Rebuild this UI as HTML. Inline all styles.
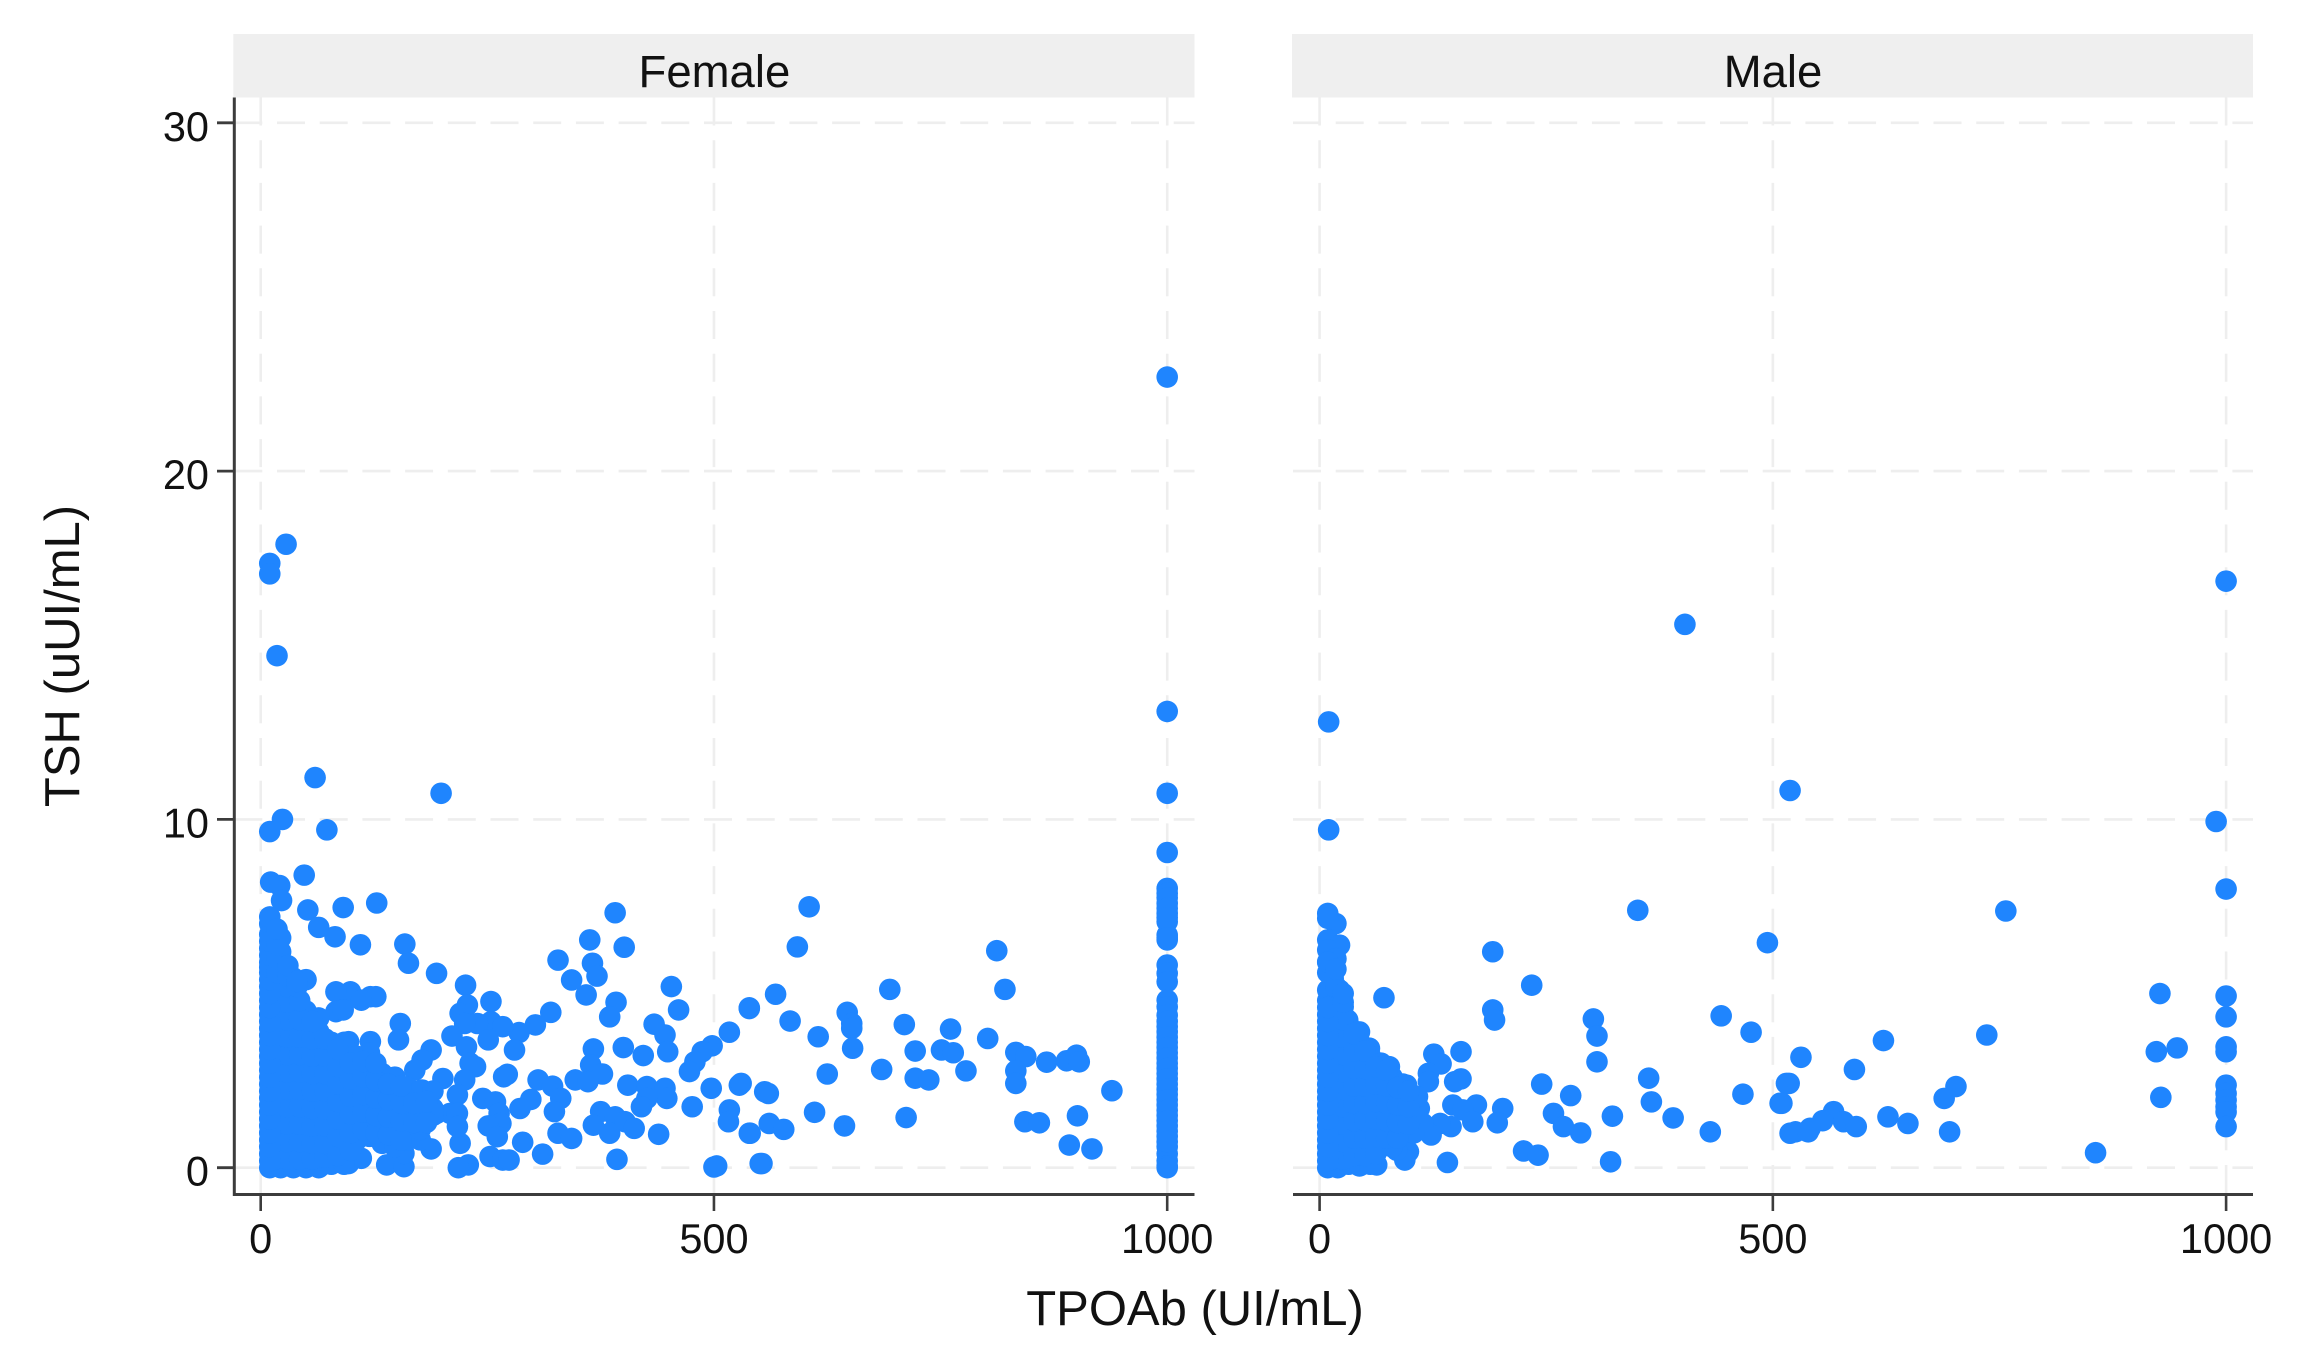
<!DOCTYPE html>
<html lang="en">
<head>
<meta charset="utf-8">
<title>TSH vs TPOAb by sex</title>
<style>
html,body{margin:0;padding:0;background:#fff;width:2313px;height:1358px;overflow:hidden}
svg{display:block;font-family:"Liberation Sans",Arial,sans-serif}
</style>
</head>
<body>
<svg id="chart" xmlns="http://www.w3.org/2000/svg" width="2313" height="1358" viewBox="0 0 2313 1358">
  <rect x="0" y="0" width="2313" height="1358" fill="#ffffff"/>
  <g id="grid"></g>
  <g id="marks"></g>
  <g id="axes"></g>
  <text x="1195" y="1325" font-size="49" text-anchor="middle" fill="#111">TPOAb (UI/mL)</text>
  <text transform="translate(79 656) rotate(-90)" font-size="49" text-anchor="middle" fill="#111">TSH (uUI/mL)</text>
</svg>
<script>
const panelNames = ["Female", "Male"];
const xTicks = [0, 500, 1000];
const yTicks = [0, 10, 20, 30];

const femaleTPOAb = [
1000,28,10,10,18,1000,60,199,1000,24,10,73,1000,
1000,1000,1000,1000,1000,1000,1000,1000,1000,1000,1000,1000,1000,1000,
1000,1000,1000,1000,1000,1000,1000,1000,1000,1000,1000,1000,1000,1000,1000,1000,
48,11,21,23,52,91,128,64,82,110,159,163,194,226,328,363,391,401,366,371,343,359,392,385,
453,461,539,517,434,446,449,498,487,479,473,422,400,367,364,377,347,361,320,303,285,280,
254,228,220,254,267,239,251,225,211,227,231,237,225,217,272,268,306,322,331,324,298,286,
245,259,263,265,251,261,289,311,328,343,375,391,402,412,367,385,439,393,405,426,446,448,
426,420,476,497,528,517,516,540,503,500,551,188,253,267,274,229,218,220,188,178,170,201,
154,152,121,121,127,99,83,111,83,91,97,178,194,209,217,217,170,162,178,162,
605,592,812,821,694,568,539,584,615,647,652,652,653,710,761,802,722,751,764,778,625,685,722,737,
833,844,867,889,900,903,833,833,939,843,859,901,892,917,712,611,644,560,556,539,561,577,553,530,
68,97,111,139,158,158,
10,10,10,10,10,10,10,10,10,10,10,10,10,10,10,10,10,10,10,10,
22,22,22,22,22,22,22,22,22,22,22,22,22,22,22,
36,36,36,36,36,36,36,36,36,36,36,36,
50,50,50,50,50,50,50,50,50,50,50,
64,64,64,64,64,64,64,64,64,64,
78,78,78,78,78,78,78,78,
92,92,92,92,92,92,92,92,
106,106,106,106,106,106,
120,120,120,120,120,120,
134,134,134,134,134,
148,148,148,148,148,
162,162,162,162,
176,176,176,176,
190,190,190,
16,16,16,16,16,16,16,16,16,16,16,
29,29,29,29,29,29,29,29,29,29,29,
43,43,43,43,43,43,43,43,43,43,
57,57,57,57,57,57,57,57,57,
71,71,71,71,71,71,71,71,
85,85,85,85,85,85,85,
99,99,99,99,99,99,
113,113,113,113,113,
127,127,127,127,127,
141,141,141,141,
155,155,155,155,
169,169,
183,183,
10,10,10,10,10,10,10,10,10,10,10,10,10,10,10,10,10,
18,18,18,18,
30,30,
40,40,
1000,1000,1000,1000,1000,1000,1000,1000,1000,1000,1000,1000,1000,1000,1000,1000
];
const femaleTSH = [
22.7,17.9,17.35,17.05,14.7,13.1,11.2,10.75,10.75,10,9.65,9.7,9.05,
8.02,7.88,7.59,7.3,7.06,6.68,6.54,5.82,5.58,5.34,4.81,4.62,4.38,4.2,
3.9,3.6,3.3,3,2.7,2.4,2.1,1.8,1.5,1.2,0.9,0.6,0.4,0.2,0.05,0,
8.4,8.2,8.1,7.67,7.4,7.47,7.6,6.9,6.63,6.4,6.42,5.87,5.58,5.24,5.96,6.54,7.32,6.33,5.87,5.5,5.39,4.96,4.75,4.33,
5.2,4.53,4.59,3.89,4.12,3.81,3.33,3.5,3.33,3.04,2.76,3.22,3.45,3.41,2.95,2.69,2.52,2.47,4.46,4.1,3.88,3.38,
4.77,4.67,4.43,4.19,4.05,4.14,3.67,4.14,3.78,3.47,3,2.9,2.52,2.09,2.68,2.61,2.52,2.34,1.99,1.61,1.96,1.7,
1.99,1.89,1.56,1.27,1.2,0.89,0.73,0.39,0.99,0.84,1.61,1.46,1.32,1.13,1.22,0.99,0.96,0.24,2.37,2.33,2.28,1.99,
1.99,1.75,1.75,2.28,2.37,1.66,1.32,0.99,0.05,0.02,0.12,0.54,0.32,0.22,0.22,0.08,0,0.7,3.38,3.09,2.8,2.56,
4.14,3.67,3.62,4.91,4.91,5.05,5.05,4.81,4.48,4.53,3.62,1.6,1.56,1.56,1.56,1.18,0.99,0.8,2.23,2.23,
7.49,6.34,6.23,5.12,5.12,4.98,4.57,4.21,3.76,4.46,4.14,4,3.43,4.11,3.98,3.71,3.35,3.38,3.3,2.78,2.69,2.82,2.57,2.52,
3.31,3.19,3.03,3.07,3.23,3.04,2.78,2.42,2.21,1.32,1.29,1.49,0.65,0.54,1.44,1.59,1.2,2.13,2.18,0.99,1.27,1.1,0.12,2.42,
0.08,0.12,0.27,0.08,0.03,0.41,
0,0.4,0.8,1.2,1.6,2,2.4,2.8,3.2,3.6,4,4.4,4.8,5.2,5.6,5.9,6.3,6.7,7,7.2,
0,0.5,1,1.5,2,2.5,3,3.5,4,4.5,5,5.5,5.9,6.2,6.6,
0,0.5,1,1.5,2,2.5,3,3.5,4,4.5,5,5.45,
0,0.5,1,1.5,2,2.5,3,3.5,4,4.5,5.4,
0,0.4,0.9,1.4,1.9,2.4,2.9,3.4,3.9,4.3,
0.1,0.6,1.1,1.6,2.1,2.6,3.1,3.6,
0.1,0.7,1.3,1.8,2.3,2.8,3.3,3.6,
0.8,1.3,1.8,2.3,2.8,3.2,
0.9,1.4,1.9,2.4,2.9,3.3,
0.7,1.2,1.7,2.2,2.7,
0.6,1.1,1.6,2.1,2.6,
0.8,1.3,1.9,2.3,
0.8,1.1,1.6,2.2,
1.5,1.7,2.2,
0.25,0.75,1.25,1.75,2.25,2.75,3.25,3.75,4.25,4.75,5.25,
0.25,0.75,1.25,1.75,2.25,2.75,3.25,3.75,4.25,4.75,5.2,
0.25,0.75,1.25,1.75,2.25,2.75,3.25,3.75,4.25,4.8,
0.25,0.7,1.2,1.7,2.2,2.7,3.2,3.7,4.2,
0.3,0.7,1.2,1.7,2.2,2.7,3.2,3.7,
0.35,0.9,1.4,1.9,2.4,2.9,3.4,
0.5,1,1.55,2.05,2.55,3,
1.1,1.6,2.1,2.6,3.05,
1,1.5,2,2.5,3,
0.95,1.45,1.95,2.4,
0.8,1.35,1.85,2.35,
1.3,1.85,
1.3,1.9,
0.2,0.6,1,1.4,1.8,2.2,2.6,3,3.4,3.8,4.2,4.6,5,5.4,5.75,6.1,6.5,
5.6,6,6.4,6.85,
5.5,5.8,
5.2,5.35,
4.05,3.75,3.45,3.15,2.85,2.55,2.25,1.95,1.65,1.35,1.05,0.75,7.75,7.45,7.18,6.6
];

const maleTPOAb = [
1000,403,10,10,519,989,9,18,9,9,22,9,18,9,15,191,351,494,234,71,191,193,302,306,306,443,476,156,126,134,120,120,156,149,245,277,363,366,467,515,508,
323,390,431,519,258,269,288,202,196,173,147,158,169,145,133,123,225,241,321,141,98,94,85,63,53,96,110,108,114,77,66,55,44,31,26,22,
757,1000,927,1000,1000,736,923,946,1000,1000,622,531,590,518,702,689,928,1000,1000,1000,1000,1000,1000,510,567,555,578,592,541,525,539,627,649,695,856,
9,9,9,9,9,9,9,9,9,9,9,9,9,9,9,9,
20,20,20,20,20,20,20,20,20,20,20,
32,32,32,32,32,32,32,32,32,
44,44,44,44,44,44,44,44,
56,56,56,56,56,56,56,
68,68,68,68,68,68,
80,80,80,80,80,
92,92,92,92,
104,104,104,
14,14,14,14,14,14,14,14,14,14,
26,26,26,26,26,26,26,26,26,
38,38,38,38,38,38,38,38,
50,50,50,50,50,50,50,
62,62,62,62,62,62,
74,74,74,74,74,
86,86,86,86,
98,98,98,
9,9,9,9,9,9,9,9,9,9,9,9,
18,18,26,26
];
const maleTSH = [
16.84,15.6,12.8,9.7,10.83,9.94,7.3,7.01,7.16,6.54,6.39,6.25,6,5.91,5.44,6.2,7.39,6.46,5.24,4.88,4.53,4.24,4.27,3.78,3.04,4.36,3.89,3.33,3.26,2.98,2.71,2.47,2.55,2.47,2.4,2.07,2.57,1.89,2.11,2.42,1.85,
1.48,1.43,1.03,0.99,1.56,1.18,1,1.7,1.29,1.8,1.8,1.66,1.32,1.18,1.27,0.94,0.48,0.36,0.17,0.15,0.46,0.22,0.5,0.08,0.12,2.37,1.7,2.04,1.27,2.9,3,3.43,3.9,4.24,4.62,5.1,
7.37,8,5,4.93,4.33,3.81,3.33,3.44,3.47,3.33,3.65,3.17,2.82,2.42,2.33,1.99,2.02,2.37,2.13,1.94,1.75,1.6,1.18,1.85,1.61,1.35,1.32,1.18,1.13,1.03,1.03,1.46,1.27,1.03,0.43,
0,0.4,0.8,1.2,1.6,2,2.4,2.8,3.2,3.6,4,4.4,4.8,5.1,5.6,5.9,
0,0.5,1,1.5,2,2.5,3,3.5,4,4.5,4.9,
0.1,0.6,1.1,1.6,2.1,2.6,3.1,3.6,4.1,
0.05,0.6,1.1,1.6,2.1,2.6,3.1,3.6,
0.1,0.7,1.2,1.7,2.2,2.7,3.2,
0.6,1.1,1.6,2.1,2.6,3,
0.6,1.1,1.6,2.1,2.6,
1,1.5,2,2.4,
1,1.5,2,
0.25,0.75,1.25,1.75,2.25,2.75,3.25,3.75,4.25,4.65,
0.25,0.75,1.25,1.75,2.25,2.75,3.25,3.75,4.25,
0.35,0.85,1.35,1.85,2.35,2.85,3.35,3.85,
0.35,0.85,1.35,1.85,2.35,2.85,3.35,
0.4,0.9,1.4,1.9,2.4,2.9,
0.85,1.35,1.85,2.35,2.8,
0.85,1.3,1.8,2.3,
1.25,1.75,2.2,
0.2,0.6,1,1.4,1.8,2.2,2.6,3,3.4,3.8,4.2,4.6,
5.2,5.7,4.75,5
];

const NS = "http://www.w3.org/2000/svg";
const gridLayer = document.getElementById("grid");
const markLayer = document.getElementById("marks");
const axisLayer = document.getElementById("axes");

const plotTop = 97.5;
const plotBottom = 1194.5;
const yScale = function (v) { return 1167.7 - v * 34.83; };
const panelLefts = [234.3, 1293];
const panelRights = [1194.5, 2253];
const panelZeros = [260.7, 1319.6];
const xPerUnit = 0.9065;
const xScale = function (panel, v) { return panelZeros[panel] + v * xPerUnit; };
const seriesX = [femaleTPOAb, maleTPOAb];
const seriesY = [femaleTSH, maleTSH];

function make(tag, parent, attrs) {
  const el = document.createElementNS(NS, tag);
  for (const k in attrs) el.setAttribute(k, attrs[k]);
  parent.appendChild(el);
  return el;
}

panelNames.forEach(function (name, p) {
  const slug = name.toLowerCase();
  const left = panelLefts[p];
  const right = panelRights[p];

  const strip = make("rect", axisLayer, { x: left - 1, y: 34, width: right - left + 1, height: 63.5, fill: "#efefef" });
  
  

  const stripLabel = make("text", axisLayer, { x: (left + right) / 2, y: 87, "font-size": 45.5, "text-anchor": "middle", fill: "#111" });
  
  
  stripLabel.textContent = name;

  yTicks.forEach(function (t) {
    const line = make("line", gridLayer, { x1: left, x2: right, y1: yScale(t), y2: yScale(t), stroke: "#eeeeee", "stroke-width": 2.6, "stroke-dasharray": "28 14.7" });
    
    
  });
  xTicks.forEach(function (t) {
    const line = make("line", gridLayer, { x1: xScale(p, t), x2: xScale(p, t), y1: plotTop, y2: plotBottom, stroke: "#eeeeee", "stroke-width": 2.6, "stroke-dasharray": "28 14.7" });
    
    
  });

  const xs = seriesX[p];
  const ys = seriesY[p];
  xs.forEach(function (v, i) {
    const dot = make("circle", markLayer, { cx: xScale(p, v), cy: yScale(ys[i]), r: 10.8, fill: "#1f85fe" });
    
    
  });

  const xAxis = make("line", axisLayer, { x1: left, x2: right, y1: 1194.5, y2: 1194.5, stroke: "#3c3c3c", "stroke-width": 3 });
  
  

  xTicks.forEach(function (t) {
    const tick = make("line", axisLayer, { x1: xScale(p, t), x2: xScale(p, t), y1: 1194.5, y2: 1211, stroke: "#3c3c3c", "stroke-width": 2.6 });
    
    
    const label = make("text", axisLayer, { x: xScale(p, t), y: 1253, "font-size": 41.5, "text-anchor": "middle", fill: "#111" });
    
    
    label.textContent = t;
  });
});

const yAxis = make("line", axisLayer, { x1: 234.3, x2: 234.3, y1: plotTop, y2: 1196, stroke: "#3c3c3c", "stroke-width": 3 });



yTicks.forEach(function (t) {
  const tick = make("line", axisLayer, { x1: 217, x2: 234.3, y1: yScale(t), y2: yScale(t), stroke: "#3c3c3c", "stroke-width": 2.8 });
  
  
  const label = make("text", axisLayer, { x: 209, y: yScale(t) + 18, "font-size": 41.5, "text-anchor": "end", fill: "#111" });
  
  
  label.textContent = t;
});
</script>
</body>
</html>
